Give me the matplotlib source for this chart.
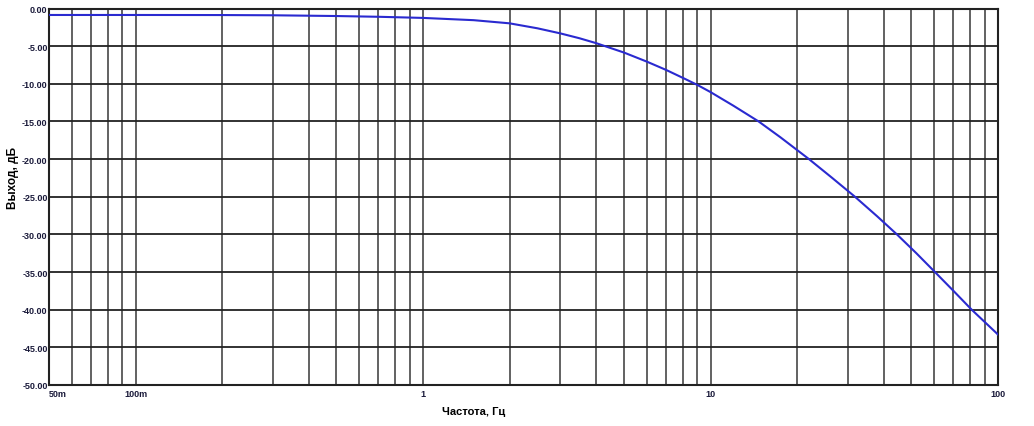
import numpy as np
import matplotlib.pyplot as plt
from matplotlib.ticker import LogLocator, FixedLocator, NullFormatter

plt.rcParams['font.family'] = ['Liberation Sans', 'DejaVu Sans']

# frequency response
freq = [0.05, 0.1, 0.2, 0.3, 0.5, 0.7, 1, 1.5, 2, 2.5, 3, 3.5, 4, 5, 6, 7, 8,
        9, 10, 12, 14.7, 17.5, 22, 26.5, 31.8, 38, 44.5, 52, 60, 70, 81, 100]
gain = [-0.86, -0.86, -0.87, -0.9, -1.0, -1.1, -1.25, -1.55, -1.97, -2.63,
        -3.3, -3.95, -4.6, -5.85, -7.05, -8.15, -9.2, -10.15, -11.1, -12.9,
        -15.0, -17.1, -20.0, -22.5, -25.0, -27.6, -30.0, -32.5, -34.9, -37.5,
        -40.0, -43.3]

x_ticks = [0.05, 0.1, 1, 10, 100]
x_labels = ['50m', '100m', '1', '10', '100']
y_ticks = np.arange(0, -55, -5)

fig = plt.figure(figsize=(10.34, 4.27), dpi=100)
ax = fig.add_axes([49/1034, 1-386/427, (998-49)/1034, (386-9.5)/427])

ax.plot(freq, gain, color='#2a2ad0', lw=1.5, zorder=3)

ax.set_xscale('log')
ax.set_xlim(0.05, 100)
ax.set_ylim(-50, 0)

ax.xaxis.set_major_locator(FixedLocator(x_ticks))
ax.set_xticklabels(x_labels)
ax.xaxis.set_minor_locator(LogLocator(base=10, subs=np.arange(2, 10)))
ax.xaxis.set_minor_formatter(NullFormatter())
ax.set_yticks(y_ticks)
ax.set_yticklabels([f'{v:.2f}' for v in y_ticks])

ax.grid(True, which='major', axis='y', color='#222222', lw=1.3)
ax.grid(True, which='both', axis='x', color='#555555', lw=1.3)
ax.set_axisbelow(True)

ax.tick_params(which='both', length=0, labelsize=6.5)
ax.tick_params(axis='y', pad=1)
ax.tick_params(axis='x', pad=3)
for lbl in ax.get_xticklabels() + ax.get_yticklabels():
    lbl.set_fontweight('bold')
    lbl.set_color('#1a1a3a')
ax.get_xticklabels()[0].set_horizontalalignment('left')

for s in ax.spines.values():
    s.set_color('#222222')
    s.set_linewidth(1.5)

fig.text(13/1034, 1-178/427, 'Выход, дБ', rotation=90, ha='center', va='center',
         fontsize=8.5, fontweight='bold')
fig.text(474/1034, 1-412/427, 'Частота, Гц', ha='center', va='center',
         fontsize=8, fontweight='bold')

fig.savefig('out.png', dpi=100)
